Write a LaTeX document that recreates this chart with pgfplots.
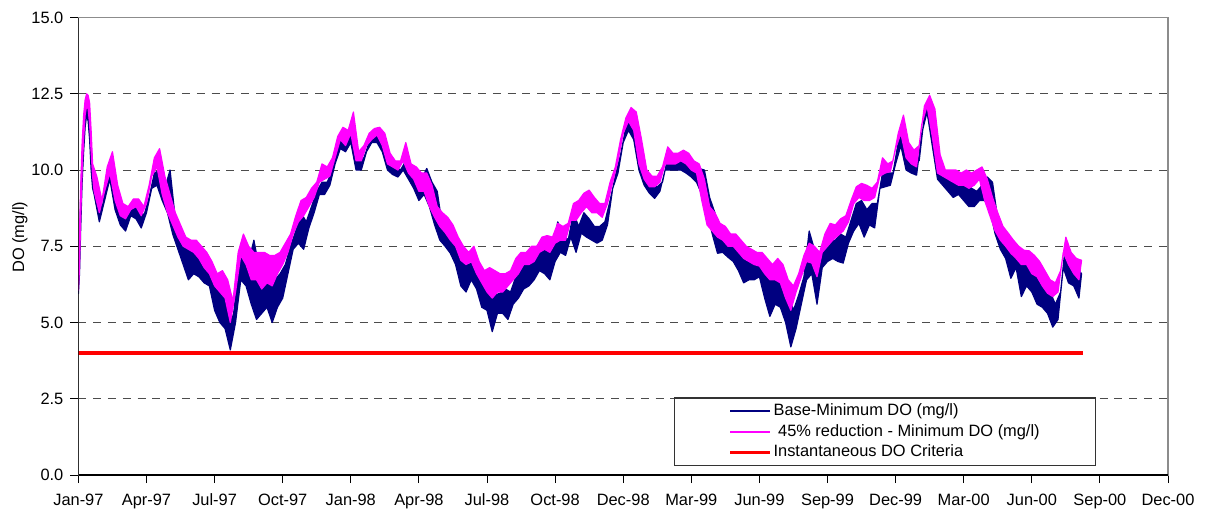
\documentclass[border=0pt]{standalone}
\usepackage{pgfplots}
\usepackage{pgfplotstable}
\pgfplotsset{compat=1.18}
\usepackage{fontspec}
\setmainfont{Liberation Sans}
\definecolor{navyc}{RGB}{0,0,128}
\definecolor{magc}{RGB}{255,0,255}
\definecolor{redc}{RGB}{255,0,0}
\pgfplotsset{
  navleg/.style={legend image code/.code={\draw[draw=navyc, line width=0.9pt] (0pt,0pt) -- (20pt,0pt);}},
  magleg/.style={legend image code/.code={\draw[draw=magc, line width=0.9pt] (0pt,0pt) -- (20pt,0pt);}},
  redleg/.style={legend image code/.code={\draw[draw=redc, line width=1.5pt] (0pt,0pt) -- (20pt,0pt);}},
}

% lower envelope of the daily minima: d = day since 1 Jan 1997, b = base, r = 45% reduction (mg/l)
\pgfplotstableread{
d b r
0 5.95 6.05
1.5 6.6 6.8
3 8.0 8.4
5 9.6 10.0
7 10.6 11.0
9 11.4 11.8
11 11.8 12.1
13 11.6 12.0
15 11.0 11.5
17 10.0 10.6
19 9.4 9.8
21 9.2 9.3
28 8.3 8.6
35 9.0 9.3
42 9.7 9.9
49 8.7 9.0
56 8.2 8.5
63 8.0 8.4
70 8.5 8.7
77 8.4 8.8
84 8.1 8.5
91 8.6 8.9
98 9.4 9.8
105 9.5 10.1
112 9.0 9.2
119 8.6 8.6
126 7.9 8.2
133 7.4 7.8
140 6.9 7.5
147 6.4 7.4
154 6.6 7.3
161 6.5 7.1
168 6.3 6.8
175 6.2 6.6
182 5.4 6.2
189 5.0 6.0
196 4.8 5.8
203 4.1 5.0
210 5.0 6.0
217 6.4 7.2
224 6.2 6.9
231 5.6 6.4
238 5.1 6.4
245 5.3 6.1
252 5.5 6.3
259 5.0 6.2
266 5.5 6.6
273 5.8 6.9
280 6.6 7.3
287 7.4 7.9
294 7.6 8.3
301 7.4 8.5
308 8.1 8.8
315 8.6 9.1
322 9.2 9.6
329 9.2 9.7
336 9.5 9.8
343 10.2 10.4
350 10.7 11.0
357 10.6 10.8
364 10.9 11.2
371 10.0 10.3
378 10.0 10.3
385 10.6 10.8
392 10.9 11.0
399 10.9 11.15
406 10.6 10.8
413 10.0 10.2
420 9.85 10.1
427 9.77 10.0
434 10.0 10.3
441 9.7 9.9
448 9.4 9.7
455 9.0 9.3
462 9.2 9.3
469 8.8 8.8
476 8.2 8.45
483 7.7 8.15
490 7.5 7.95
497 7.27 7.7
504 6.9 7.5
511 6.2 7.04
518 6.0 6.9
525 6.4 7.0
532 6.1 6.6
539 5.5 6.3
546 5.4 6.0
553 4.7 5.8
560 5.3 6.0
567 5.3 6.0
574 5.1 6.2
581 5.6 6.4
588 5.8 6.6
595 6.1 6.9
602 6.2 6.9
609 6.4 7.0
616 6.7 7.3
623 6.6 7.4
630 6.4 7.3
637 7.0 7.6
644 7.3 7.7
651 7.2 7.7
658 7.8 8.35
665 7.3 8.35
672 7.93 8.6
679 7.8 8.8
686 7.7 8.6
693 7.6 8.6
700 7.7 8.45
707 8.2 8.9
714 9.4 9.6
721 9.9 10.3
728 10.9 11.2
735 11.3 11.6
742 11.0 11.3
749 10.0 10.2
756 9.5 9.7
763 9.24 9.45
770 9.07 9.45
777 9.3 9.6
784 10.0 10.2
791 10.0 10.2
798 10.0 10.2
805 10.0 10.3
812 9.9 10.2
819 9.77 10.0
826 9.6 9.9
833 9.2 9.0
840 8.6 8.2
847 7.9 8.0
854 7.27 7.8
861 7.3 7.7
868 7.14 7.5
875 7.0 7.5
882 6.7 7.3
889 6.3 7.1
896 6.4 7.0
903 6.4 6.9
910 6.5 6.85
917 5.8 6.6
924 5.2 6.4
931 5.6 6.4
938 5.5 6.3
945 5.0 5.8
952 4.2 5.4
959 4.8 6.0
966 5.6 6.5
973 6.4 7.0
980 6.6 6.95
987 5.6 6.5
994 6.8 7.3
1001 7.0 7.5
1008 7.1 7.7
1015 7.0 7.85
1022 6.95 8.0
1029 7.6 8.3
1036 8.0 8.9
1043 8.25 9.1
1050 7.8 9.0
1057 8.2 9.0
1064 8.1 9.1
1071 9.4 9.8
1078 9.45 9.9
1085 9.5 9.95
1092 10.2 10.7
1099 10.8 11.2
1106 10.0 10.4
1113 9.9 10.2
1120 9.83 10.1
1127 11.2 11.5
1134 11.9 12.1
1141 10.8 11.1
1148 9.7 9.9
1155 9.5 9.8
1162 9.3 9.7
1169 9.1 9.6
1176 9.2 9.5
1183 9.0 9.5
1190 8.8 9.4
1197 8.8 9.5
1204 9.0 9.7
1211 9.0 9.0
1218 8.7 8.5
1225 7.9 8.0
1232 7.4 7.7
1239 7.1 7.5
1246 6.45 7.27
1253 6.8 7.1
1260 5.85 6.9
1267 6.2 6.9
1274 6.0 6.6
1281 5.6 6.5
1288 5.5 6.2
1295 5.3 5.96
1302 4.85 5.85
1309 5.1 6.0
1316 6.8 7.3
1323 6.3 6.9
1330 6.2 6.6
1337 5.8 6.4
}\lotab

% upper envelope of the daily minima
\pgfplotstableread{
d b r
0 6.2 6.3
1.5 7.6 8.0
3 9.0 9.4
5 10.4 10.9
7 11.4 11.8
9 11.9 12.3
11 12.2 12.5
13 12.0 12.45
15 11.8 12.2
17 10.8 11.3
19 9.8 10.2
24.5 9.6 9.8
31.5 8.7 9.0
38.5 9.8 10.1
45.5 10.3 10.6
52.5 9.1 9.5
59.5 8.6 8.9
66.5 8.5 8.8
73.5 8.8 9.05
80.5 8.8 9.05
87.5 8.5 8.8
94.5 9.1 9.5
101.5 9.9 10.4
108.5 10.0 10.7
115.5 9.4 9.8
122.5 10.0 9.2
129.5 8.4 8.6
136.5 8.0 8.2
143.5 7.6 7.8
150.5 7.4 7.7
157.5 7.3 7.7
164.5 7.2 7.5
171.5 6.9 7.3
178.5 6.8 7.0
185.5 6.2 6.6
192.5 6.0 6.7
199.5 5.7 6.4
206.5 5.1 5.7
213.5 6.6 7.3
220.5 7.5 7.9
227.5 7.0 7.5
234.5 7.7 7.3
241.5 6.8 7.3
248.5 6.4 7.3
255.5 6.6 7.2
262.5 6.4 7.2
269.5 6.6 7.3
276.5 6.9 7.6
283.5 7.5 7.9
290.5 8.0 8.5
297.5 8.6 9.0
304.5 8.3 9.1
311.5 8.8 9.4
318.5 9.3 9.6
325.5 9.6 10.2
332.5 9.6 10.1
339.5 10.0 10.4
346.5 10.8 11.1
353.5 11.1 11.4
360.5 11.0 11.3
367.5 11.5 11.9
374.5 10.3 10.6
381.5 10.4 10.8
388.5 10.9 11.2
395.5 11.1 11.36
402.5 11.15 11.4
409.5 11.0 11.2
416.5 10.35 10.55
423.5 10.1 10.3
430.5 10.0 10.3
437.5 10.3 10.9
444.5 10.1 10.2
451.5 9.9 10.1
458.5 9.7 9.9
465.5 10.05 9.9
472.5 9.6 9.5
479.5 9.3 8.8
486.5 8.15 8.6
493.5 8.0 8.45
500.5 7.85 8.2
507.5 7.4 7.8
514.5 7.0 7.5
521.5 6.9 7.3
528.5 7.0 7.5
535.5 6.8 7.0
542.5 6.4 6.7
549.5 6.2 6.8
556.5 5.9 6.7
563.5 5.96 6.6
570.5 6.1 6.6
577.5 6.0 6.7
584.5 6.5 7.1
591.5 6.8 7.3
598.5 6.9 7.3
605.5 7.0 7.5
612.5 7.5 7.5
619.5 7.4 7.8
626.5 7.4 7.85
633.5 7.4 7.8
640.5 8.3 8.25
647.5 7.9 8.15
654.5 7.7 8.25
661.5 8.6 8.9
668.5 8.15 9.0
675.5 8.6 9.24
682.5 8.4 9.34
689.5 8.15 9.1
696.5 8.15 8.9
703.5 8.3 8.9
710.5 9.0 9.6
717.5 9.8 10.1
724.5 10.5 11.0
731.5 11.4 11.7
738.5 11.7 12.05
745.5 11.6 11.9
752.5 10.7 11.0
759.5 9.9 10.0
766.5 9.56 9.8
773.5 9.45 9.8
780.5 9.6 10.1
787.5 10.4 10.76
794.5 10.3 10.55
801.5 10.3 10.55
808.5 10.3 10.65
815.5 10.2 10.55
822.5 10.1 10.3
829.5 10.05 10.2
836.5 10.0 9.7
843.5 9.1 8.8
850.5 8.6 8.6
857.5 8.0 8.25
864.5 7.9 8.15
871.5 7.7 7.9
878.5 7.6 7.9
885.5 7.3 7.7
892.5 7.0 7.5
899.5 7.0 7.4
906.5 6.9 7.3
913.5 6.9 7.3
920.5 6.6 7.1
927.5 6.4 6.9
934.5 6.6 7.1
941.5 6.4 6.9
948.5 6.0 6.4
955.5 5.4 6.2
962.5 5.9 6.6
969.5 6.5 7.2
976.5 8.0 7.6
983.5 7.4 7.5
990.5 7.0 7.3
997.5 7.5 7.9
1004.5 7.7 8.25
1011.5 7.7 8.2
1018.5 7.9 8.4
1025.5 7.8 8.5
1032.5 8.35 9.0
1039.5 8.9 9.45
1046.5 9.0 9.56
1053.5 8.7 9.5
1060.5 8.9 9.4
1067.5 8.9 9.6
1074.5 9.9 10.4
1081.5 9.9 10.2
1088.5 9.9 10.3
1095.5 10.9 11.2
1102.5 11.3 11.8
1109.5 10.6 10.9
1116.5 10.3 10.65
1123.5 10.3 10.8
1130.5 11.8 12.1
1137.5 12.3 12.45
1144.5 11.7 12.0
1151.5 10.2 10.5
1158.5 9.8 10.0
1165.5 9.6 10.0
1172.5 9.6 10.0
1179.5 9.6 9.9
1186.5 9.6 10.0
1193.5 9.4 9.9
1200.5 9.3 10.0
1207.5 9.5 10.1
1214.5 9.77 9.7
1221.5 9.6 9.1
1228.5 8.4 8.6
1235.5 7.93 8.15
1242.5 7.6 7.93
1249.5 7.3 7.7
1256.5 7.2 7.5
1263.5 7.0 7.37
1270.5 6.9 7.35
1277.5 6.8 7.2
1284.5 6.6 7.0
1291.5 6.3 6.7
1298.5 6.0 6.4
1305.5 5.6 6.3
1312.5 6.0 6.7
1319.5 7.7 7.8
1326.5 7.0 7.3
1333.5 6.8 7.1
1340.5 6.6 7.04
}\hitab

% band outline: lower envelope forwards, upper envelope backwards
\pgfplotstablesort[sort key=d, sort cmp=float >]{\hirev}{\hitab}
\pgfplotstablevertcat{\lotab}{\hirev}

\begin{document}
\begin{tikzpicture}[font=\fontsize{8.2}{10}\selectfont]
\useasboundingbox (-39.2pt,-18pt) rectangle (563.3pt,237.5pt);
\begin{axis}[
  scale only axis, width=544.8pt, height=228.75pt,
  at={(0pt,0pt)}, anchor=south west,
  xmin=0, xmax=1456, ymin=0, ymax=15,
  xtick={0,91,...,1456},
  xticklabels={Jan-97,Apr-97,Jul-97,Oct-97,Jan-98,Apr-98,Jul-98,Oct-98,Dec-98,Mar-99,Jun-99,Sep-99,Dec-99,Mar-00,Jun-00,Sep-00,Dec-00},
  xticklabel style={yshift=-2pt},
  ytick={0,2.5,5,7.5,10,12.5,15},
  yticklabels={0.0,2.5,5.0,7.5,10.0,12.5,15.0},
  tick pos=left, tick align=outside, major tick length=4pt,
  ymajorgrids,
  grid style={black!70, dash pattern=on 4pt off 3.4pt, line width=0.5pt},
  axis line style={black!45, line width=0.6pt},
  tick style={black, line width=0.5pt},
  ylabel={DO (mg/l)},
  ylabel style={at={(rel axis cs:-0.0403,0.52)}, anchor=south},
  legend cell align=left,
  legend style={at={(0.5466,0.1698)}, anchor=north west, draw=black!80, line width=0.6pt,
    fill=white, inner xsep=27pt, inner ysep=1.4pt,
    nodes={inner xsep=1pt, inner ysep=0.4pt, text height=7pt, text depth=2.5pt}},
]
\addplot[navyc, fill=navyc, line width=0.6pt, line join=round, navleg]
  table[x=d, y=b] {\lotab} -- cycle;
\addlegendentry{\makebox[133pt][l]{Base-Minimum DO (mg/l)}}
\addplot[magc, fill=magc, line width=0.6pt, line join=round, magleg]
  table[x=d, y=r] {\lotab} -- cycle;
\addlegendentry{\makebox[133pt][l]{\ 45\% reduction - Minimum DO (mg/l)}}
\addplot[redc, line width=2.2pt, redleg]
  coordinates {(0,4) (1343,4)};
\addlegendentry{\makebox[133pt][l]{Instantaneous DO Criteria}}
\draw[black, line width=0.6pt] (rel axis cs:0,1) -- (rel axis cs:0,0) -- (rel axis cs:1,0);
\end{axis}
\end{tikzpicture}
\end{document}
